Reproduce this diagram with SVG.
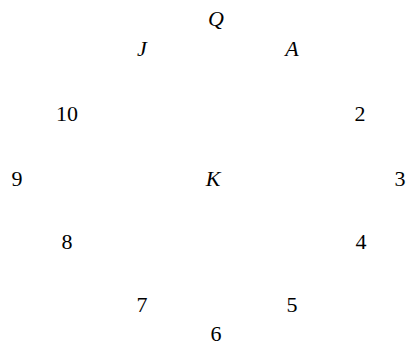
<svg xmlns="http://www.w3.org/2000/svg" width="406" height="347" viewBox="0 0 406 347">
<style>
text{font-family:"Liberation Serif","DejaVu Serif",serif;font-size:22px;fill:#000;text-anchor:middle}
.i{font-style:italic}
</style>
<rect width="406" height="347" fill="#fff"/>
<g id="Q"><text class="i" x="216" y="26">Q</text></g>
<g id="J"><text class="i" x="142" y="56">J</text></g>
<g id="A"><text class="i" x="292" y="56">A</text></g>
<g id="n10"><text x="67" y="121">10</text></g>
<g id="n2"><text x="360" y="121">2</text></g>
<g id="n9"><text x="17" y="186">9</text></g>
<g id="K"><text class="i" x="213" y="186">K</text></g>
<g id="n3"><text x="400" y="186">3</text></g>
<g id="n8"><text x="67" y="249">8</text></g>
<g id="n4"><text x="361" y="249">4</text></g>
<g id="n7"><text x="142" y="312">7</text></g>
<g id="n5"><text x="292" y="312">5</text></g>
<g id="n6"><text x="216" y="341">6</text></g>
<g id="connectors"></g>
</svg>
